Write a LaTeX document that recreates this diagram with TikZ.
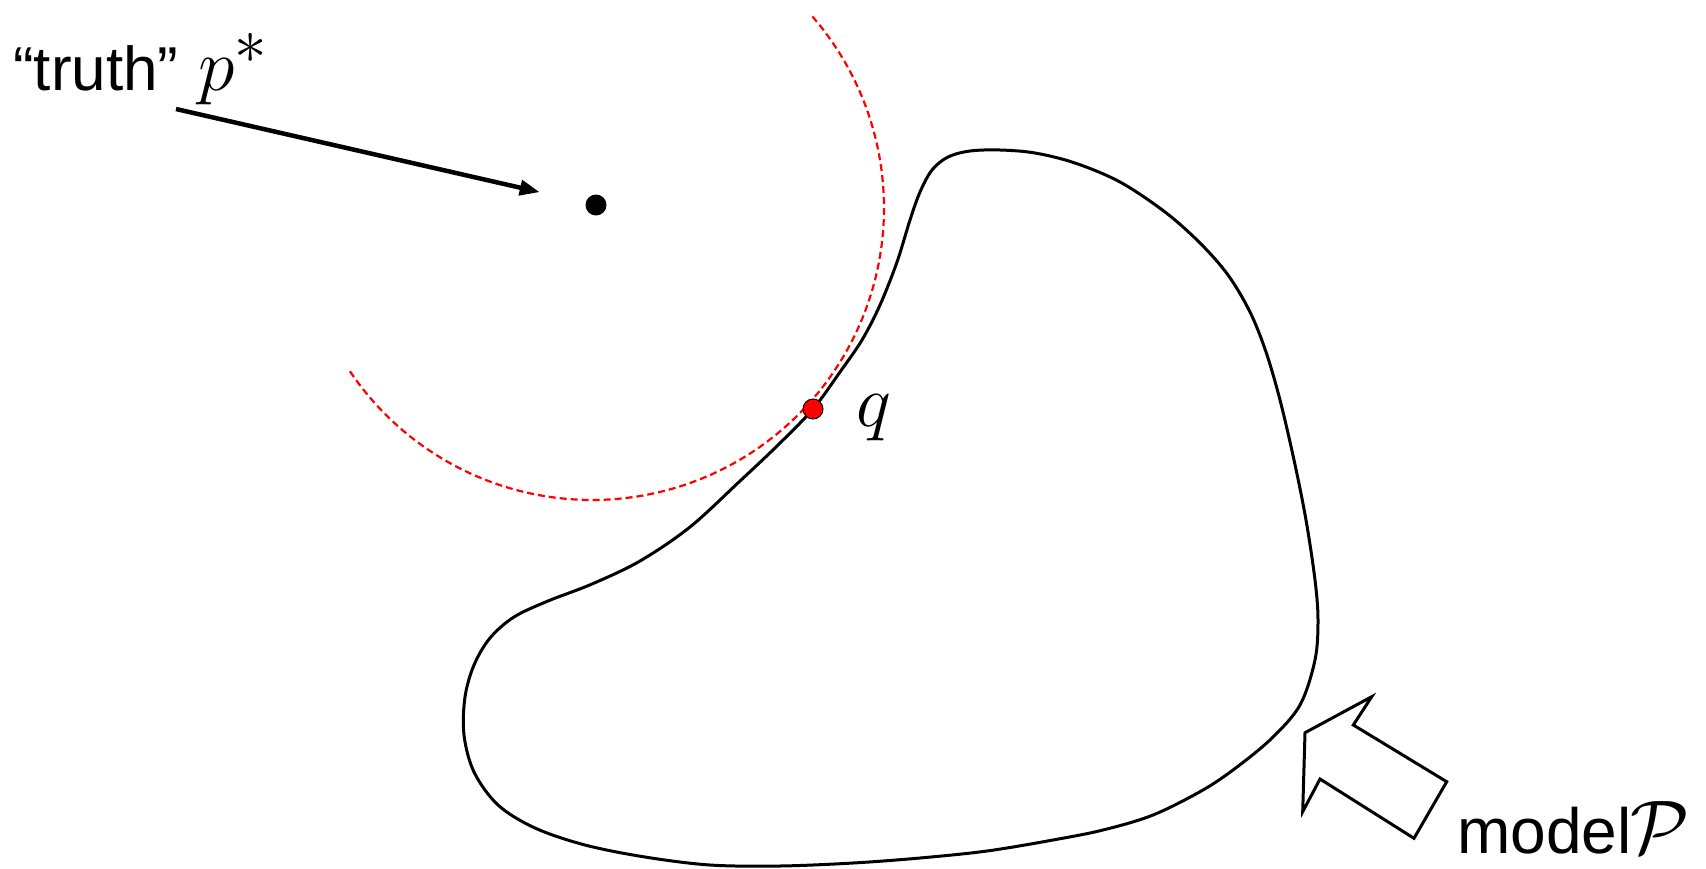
\RequirePackage{fix-cm}
\documentclass[tikz,border=0pt]{standalone}
\usepackage{fontspec}
\newfontfamily\helv{Liberation Sans}
\usetikzlibrary{arrows.meta}
\tikzset{
  curveline/.style={line width=3pt, line join=round},
  reddash/.style={red, line width=2.2pt, dash pattern=on 7pt off 4pt},
  ptdot/.style={circle, fill=black, inner sep=0pt, minimum size=21pt},
  qdot/.style={circle, fill=red, draw=black, line width=1pt, inner sep=0pt, minimum size=20pt},
  truthtext/.style={inner sep=0pt, anchor=base west, font=\helv\fontsize{62}{68}\selectfont},
  modeltext/.style={inner sep=0pt, anchor=base west, font=\helv\fontsize{64}{70}\selectfont},
  mathtext/.style={inner sep=0pt, anchor=base west, font=\fontsize{74}{80}\selectfont},
  bigmath/.style={inner sep=0pt, anchor=base west, font=\fontsize{76}{82}\selectfont},
  pointer/.style={line width=4.5pt, -{Triangle[length=20pt,width=15pt]}},
  blockarrow/.style={line width=3pt, line join=miter, fill=white}
}
\begin{document}
\begin{tikzpicture}[x=1pt,y=-1pt]
\useasboundingbox (0,0) rectangle (1706,868);
% red dashed circle around truth
\draw[reddash] plot[domain=146:-41, samples=120] ({592+292*cos(\x)},{208+292*sin(\x)});
% model blob
\draw[curveline] plot[smooth cycle, tension=0.55] coordinates {
(813,409) (840,372) (862,340) (880,305) (897,262) (910,220) (920,192) (932,170)
(948,157) (970,151) (1000,150) (1035,153) (1075,163) (1120,182) (1165,212)
(1200,243) (1228,275) (1250,312) (1266,352) (1280,400) (1294,460) (1306,520)
(1315,580) (1318,620) (1315,660) (1300,705) (1272,738) (1237,767) (1203,790)
(1153,815) (1103,830) (1053,840) (987,851) (920,858) (853,863) (780,866)
(710,865) (645,857) (585,845) (535,828) (498,805) (474,772)
(464,735) (465,697) (474,665) (490,638) (514,617) (548,601)
(592,584) (640,561) (690,527) (740,481) (777,446)};
% points
\node[ptdot] (pstar) at (596,205) {};
\node[qdot] (qpt) at (813,409) {};
% labels
\node[truthtext] (truth) at (13,90) {“truth”};
\node[mathtext] (plabel) at (198,90) {$p^{\scalebox{1.25}{$\scriptstyle *$}}$};
\node[mathtext] (qlabel) at (856,426) {$q$};
\node[modeltext] (model) at (1457,853) {model};
\node[bigmath] (modelP) at (1630,853) {$\mathcal{P}$};
% pointer arrow
\coordinate (tail) at (176,109);
\draw[pointer, shorten >=47pt] (tail) -- (pstar);
% block arrow
\draw[blockarrow] (1302.7,811.7) -- (1305,732.7) -- (1371.7,696.7) -- (1353.3,725)
  -- (1446.7,781.7) -- (1414,838.3) -- (1320,779) -- cycle;
\end{tikzpicture}
\end{document}
